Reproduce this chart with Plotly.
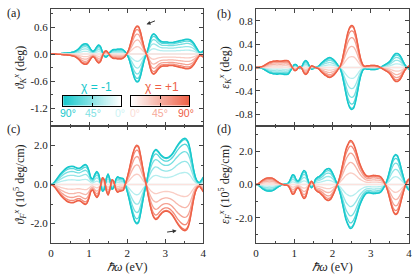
import numpy as np
import plotly.graph_objects as go

# photon energy grid (eV)
energy = np.round(np.arange(0, 4.0001, 0.05), 2)

angles = [0, 15, 30, 45, 60, 75, 90]
amp = [0.0, 0.26, 0.50, 0.71, 0.87, 0.97, 1.0]

# chi = -1, 90 deg curves (chi = +1 is the mirror image)
theta_K = [0, 0, 0, 0.005, 0.01, 0.01, 0.015, 0.02, 0.02, 0.025,
           0.03, 0.04, 0.05, 0.07, 0.10, 0.14, 0.19, 0.22, 0.23, 0.22,
           0.17, 0.10, 0.06, 0.09, 0.16, 0.20, 0.17, 0.05, -0.05, -0.07,
           -0.03, 0.04, 0.08, 0.10, 0.10, 0.11, 0.11, 0.11, 0.09, 0.05,
           -0.02, -0.12, -0.27, -0.43, -0.56, -0.62, -0.61, -0.50, -0.32, -0.14,
           -0.01, 0.12, 0.30, 0.42, 0.45, 0.42, 0.36, 0.31, 0.28, 0.27,
           0.27, 0.27, 0.26, 0.26, 0.26, 0.27, 0.28, 0.29, 0.30, 0.31,
           0.32, 0.33, 0.33, 0.32, 0.29, 0.24, 0.17, 0.10, 0.04, 0.04,
           0.07]
eps_K = [0, 0, -0.005, -0.015, -0.03, -0.05, -0.07, -0.09, -0.10, -0.11,
         -0.11, -0.115, -0.11, -0.11, -0.115, -0.12, -0.12, -0.11, -0.06, 0.0,
         0.05, 0.05, 0.01, -0.02, 0.02, 0.09, 0.12, 0.09, 0.02, -0.03,
         -0.02, 0.0, 0.01, 0.03, 0.07, 0.10, 0.13, 0.15, 0.17, 0.17,
         0.15, 0.12, 0.08, 0.03, -0.02, -0.12, -0.28, -0.45, -0.60, -0.69,
         -0.72, -0.70, -0.60, -0.44, -0.26, -0.12, -0.04, -0.02, -0.03, -0.03,
         -0.035, -0.035, -0.035, -0.03, -0.02, 0.0, 0.02, 0.04, 0.06, 0.08,
         0.11, 0.16, 0.21, 0.24, 0.24, 0.22, 0.17, 0.10, 0.04, 0.0,
         -0.03]
theta_F = [0, 0.05, 0.15, 0.28, 0.42, 0.55, 0.66, 0.76, 0.84, 0.90,
           0.93, 0.94, 0.93, 0.88, 0.84, 0.84, 0.90, 0.98, 1.03, 0.95,
           0.70, 0.35, 0.30, 0.52, 0.67, 0.55, 0.10, -0.35, -0.25, 0.30,
           0.55, 0.25, -0.25, -0.15, 0.25, 0.40, 0.35, 0.33, 0.30, 0.0,
           -0.35, -0.75, -1.20, -1.60, -1.90, -2.02, -1.95, -1.55, -1.00, -0.45,
           0.0, 0.55, 1.05, 1.45, 1.70, 1.80, 1.75, 1.62, 1.50, 1.42,
           1.38, 1.38, 1.42, 1.50, 1.62, 1.78, 1.95, 2.10, 2.22, 2.32,
           2.37, 2.35, 2.20, 1.85, 1.30, 0.75, 0.35, 0.15, 0.10, 0.22,
           0.38]
eps_F = [0, -0.03, -0.12, -0.22, -0.30, -0.36, -0.39, -0.40, -0.39, -0.36,
         -0.28, -0.20, -0.12, -0.05, 0.0, 0.03, 0.04, 0.10, 0.32, 0.58,
         0.55, 0.30, 0.20, 0.35, 0.65, 0.85, 0.75, 0.35, 0.0, -0.20,
         -0.05, 0.30, 0.42, 0.48, 0.58, 0.70, 0.85, 0.93, 0.96, 0.90,
         0.70, 0.45, 0.15, -0.15, -0.55, -1.05, -1.60, -2.10, -2.40, -2.62,
         -2.62, -2.45, -2.15, -1.75, -1.35, -1.05, -0.80, -0.62, -0.52, -0.50,
         -0.52, -0.55, -0.55, -0.53, -0.52, -0.48, -0.35, -0.15, 0.10, 0.45,
         0.90, 1.35, 1.68, 1.80, 1.72, 1.40, 0.95, 0.50, 0.10, -0.20,
         -0.35]

chis = [-1, 1]
gradient = list(range(0, 91))

CYAN = (22, 200, 204)
RED = (238, 96, 70)
FRAME = "#444444"
SERIF = "Liberation Serif"
SANS = "Liberation Sans"


def shade(rgb, t):
    c = [round(255 + (v - 255) * t) for v in rgb]
    return f"rgb({c[0]},{c[1]},{c[2]})"


def line_t(a):
    return 0.18 + 0.82 * a / 90


fig = go.Figure()

panels = [(theta_K, "x", "y"), (eps_K, "x2", "y2"),
          (theta_F, "x3", "y3"), (eps_F, "x4", "y4")]
for base, xa, ya in panels:
    for chi in chis:
        col = CYAN if chi == -1 else RED
        for a, f in zip(angles, amp):
            yv = [(-chi) * f * v for v in base]
            fig.add_trace(go.Scatter(
                x=energy, y=yv, xaxis=xa, yaxis=ya, mode="lines",
                line=dict(color=shade(col, line_t(a)), width=1.3, shape="spline", smoothing=0.6),
                showlegend=False, hoverinfo="skip"))

# colour bars
fig.add_trace(go.Heatmap(x=gradient, y=[0], z=[gradient], xaxis="x5", yaxis="y5",
                         colorscale=[[0, "white"], [1, shade(CYAN, 1)]], zmin=0, zmax=90,
                         showscale=False, hoverinfo="skip"))
fig.add_trace(go.Heatmap(x=gradient, y=[0], z=[gradient], xaxis="x6", yaxis="y6",
                         colorscale=[[0, "white"], [1, shade(RED, 1)]], zmin=0, zmax=90,
                         showscale=False, hoverinfo="skip"))

tickfont = dict(family=SERIF, size=11, color="#222")
titlefont = dict(family=SERIF, size=12, color="#222")

L, R = 0.4254, 0.5726


def xax(domain, anchor, labels):
    d = dict(domain=domain, anchor=anchor, range=[0, 4], automargin=False,
             tickvals=[0, 1, 2, 3, 4], ticktext=["0", "1", "2", "3", "4"],
             showticklabels=labels, ticks="inside", ticklen=4, tickwidth=1,
             tickcolor=FRAME, mirror="ticks", showline=True, linecolor=FRAME,
             linewidth=1, showgrid=False, zeroline=False, tickfont=tickfont,
             minor=dict(tickvals=[0.5, 1.5, 2.5, 3.5], ticks="inside", ticklen=2,
                        tickcolor=FRAME, tickwidth=1))
    if labels:
        d["title"] = dict(text="<i>ℏω</i> (eV)", font=titlefont, standoff=4)
    return d


def yax(domain, anchor, rng, vals, texts, minor, title):
    return dict(domain=domain, anchor=anchor, range=rng, tickvals=vals, ticktext=texts,
                automargin=False,
                ticks="inside", ticklen=4, tickwidth=1, tickcolor=FRAME, mirror="ticks",
                showline=True, linecolor=FRAME, linewidth=1, showgrid=False,
                zeroline=False, tickfont=tickfont,
                minor=dict(tickvals=minor, ticks="inside", ticklen=2, tickcolor=FRAME, tickwidth=1),
                title=dict(text=title, font=titlefont, standoff=3))


fig.update_layout(
    width=416, height=278, margin=dict(l=51, r=7, t=9, b=35),
    paper_bgcolor="white", plot_bgcolor="white", showlegend=False,
    xaxis=xax([0, L], "y", False),
    xaxis2=xax([R, 1], "y2", False),
    xaxis3=xax([0, L], "y3", True),
    xaxis4=xax([R, 1], "y4", True),
    yaxis=yax([0.5, 1], "x", [-1.6, 1.0], [-1.2, -0.6, 0, 0.6], ["-1.2", "-0.6", "0.0", "0.6"],
              [-1.5, -0.9, -0.3, 0.3, 0.9], "<i>ϑ</i><sub><i>K</i></sub><sup><i>x</i></sup> (deg)"),
    yaxis2=yax([0.5, 1], "x2", [-1, 1], [-0.8, -0.4, 0, 0.4, 0.8], ["-0.8", "-0.4", "0.0", "0.4", "0.8"],
               [-0.6, -0.2, 0.2, 0.6], "<i>ε</i><sub><i>K</i></sub><sup><i>x</i></sup> (deg)"),
    yaxis3=yax([0, 0.5], "x3", [-3, 3], [-2, 0, 2], ["-2.0", "0.0", "2.0"],
               [-1, 1], "<i>ϑ</i><sub><i>F</i></sub><sup><i>x</i></sup> (10<sup>5</sup> deg/cm)"),
    yaxis4=yax([0, 0.5], "x4", [-3.5, 3.5], [-2, 0, 2], ["-2.0", "0.0", "2.0"],
               [-3, -1, 1, 3], "<i>ε</i><sub><i>F</i></sub><sup><i>x</i></sup> (10<sup>5</sup> deg/cm)"),
    xaxis5=dict(domain=[0.0344, 0.1955], anchor="y5", range=[90, 0], tickvals=[45],
                ticks="inside", ticklen=3, tickcolor="black", mirror="ticks", showline=True,
                linecolor="black", linewidth=1, showticklabels=False, showgrid=False, zeroline=False),
    yaxis5=dict(domain=[0.5868, 0.6295], anchor="x5", range=[-0.5, 0.5], showline=True,
                mirror=True, linecolor="black", linewidth=1, ticks="", showticklabels=False,
                showgrid=False, zeroline=False),
    xaxis6=dict(domain=[0.2235, 0.3863], anchor="y6", range=[0, 90], tickvals=[45],
                ticks="inside", ticklen=3, tickcolor="black", mirror="ticks", showline=True,
                linecolor="black", linewidth=1, showticklabels=False, showgrid=False, zeroline=False),
    yaxis6=dict(domain=[0.5868, 0.6295], anchor="x6", range=[-0.5, 0.5], showline=True,
                mirror=True, linecolor="black", linewidth=1, ticks="", showticklabels=False,
                showgrid=False, zeroline=False),
)

ann = []
for txt, x, y in [("(a)", -0.106, 0.985), ("(b)", 0.483, 0.979), ("(c)", -0.106, 0.488), ("(d)", 0.483, 0.488)]:
    ann.append(dict(text=txt, x=x, y=y, xref="paper", yref="paper", showarrow=False,
                    xanchor="center", yanchor="middle", font=dict(family=SERIF, size=12, color="#222")))

ann.append(dict(text="χ = -1", x=0.1277, y=0.668, xref="paper", yref="paper", showarrow=False,
                xanchor="center", yanchor="middle", font=dict(family=SANS, size=12, color=shade(CYAN, 1))))
ann.append(dict(text="χ = +1", x=0.309, y=0.668, xref="paper", yref="paper", showarrow=False,
                xanchor="center", yanchor="middle", font=dict(family=SANS, size=12, color=shade(RED, 1))))

for txt, px, t, col in [("90°", 68, 1.0, CYAN), ("45°", 93, 0.55, CYAN), ("0°", 120, 0.22, CYAN),
                        ("0°", 135, 0.22, RED), ("45°", 160, 0.55, RED), ("90°", 186, 1.0, RED)]:
    ann.append(dict(text=txt, x=(px - 51) / 358, y=0.5556, xref="paper", yref="paper", showarrow=False,
                    xanchor="center", yanchor="middle", font=dict(family=SANS, size=10.5, color=shade(col, t))))

ann.append(dict(x=2.51, y=0.66, ax=2.77, ay=0.75, xref="x", yref="y", axref="x", ayref="y",
                showarrow=True, arrowhead=2, arrowsize=0.8, arrowwidth=1, arrowcolor="#333", text=""))
ann.append(dict(x=3.3, y=-2.37, ax=3.01, ay=-2.45, xref="x3", yref="y3", axref="x3", ayref="y3",
                showarrow=True, arrowhead=2, arrowsize=0.8, arrowwidth=1, arrowcolor="#333", text=""))

fig.update_layout(annotations=ann)
fig.write_html("out.html", config={"displayModeBar": False},
               post_script="document.body.style.margin='0px';document.body.style.padding='0px';")
